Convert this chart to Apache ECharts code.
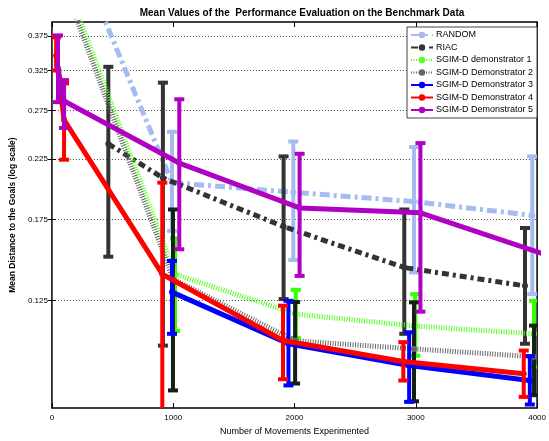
<!DOCTYPE html>
<html>
<head>
<meta charset="utf-8">
<script src="https://cdn.jsdelivr.net/npm/echarts@6/dist/echarts.min.js"></script>
<style>
html, body { margin: 0; padding: 0; background: #fff; }
#main { width: 549px; height: 441px; }
</style>
</head>
<body>
<div id="main"></div>
<script>
// tick values
var xTicks = [0, 1000, 2000, 3000, 4000];
var yTicks = [0.125, 0.175, 0.225, 0.275, 0.325, 0.375];

// RANDOM
var randomX = [0, 990, 1990, 2985, 3960];
var randomMean = [0.68, 0.204, 0.196, 0.1886, 0.178];
var randomLow = [0.6, 0.167, 0.148, 0.1405, 0.1284];
var randomHigh = [0.76, 0.252, 0.242, 0.2365, 0.2275];

// RIAC
var riacX = [465, 915, 1910, 2905, 3900];
var riacMean = [0.2397, 0.208, 0.170, 0.1434, 0.1329];
var riacLow = [0.150, 0.1037, 0.1258, 0.1089, 0.1045];
var riacHigh = [0.33, 0.309, 0.2275, 0.1825, 0.169];

// SGIM-D demonstrator 1
var dem1X = [0, 1015, 2010, 2995, 3975];
var dem1Mean = [0.548, 0.1395, 0.1182, 0.1125, 0.1089];
var dem1Low = [0.49, 0.1102, 0.1071, 0.0994, 0.095];
var dem1High = [0.6, 0.1619, 0.1307, 0.1284, 0.1249];

// SGIM-D Demonstrator 2
var dem2X = [0, 998, 2005, 2985, 3975];
var dem2Mean = [0.53, 0.1367, 0.1058, 0.1023, 0.099];
var dem2Low = [0.47, 0.0861, 0.0886, 0.0823, 0.0844];
var dem2High = [0.59, 0.1825, 0.1243, 0.1241, 0.1127];

// SGIM-D Demonstrator 3
var dem3X = [990, 1950, 2945, 3940];
var dem3Mean = [0.1295, 0.1045, 0.0955, 0.0897];
var dem3Low = [0.1089, 0.0879, 0.0821, 0.0812];
var dem3High = [0.1474, 0.1249, 0.1096, 0.0993];

// SGIM-D Demonstrator 4
var dem4X = [35, 100, 910, 1905, 2897, 3890];
var dem4Mean = [0.346, 0.2647, 0.1395, 0.1059, 0.0971, 0.0923];
var dem4Low = [0.325, 0.2244, 0.065, 0.0902, 0.0897, 0.0838];
var dem4High = [0.373, 0.308, 0.204, 0.1224, 0.1052, 0.1016];

// SGIM-D Demonstrator 5
var dem5X = [50, 100, 1050, 2042, 3038, 4040];
var dem5Mean = [0.328, 0.2863, 0.2213, 0.1837, 0.18, 0.152];
var dem5Low = [0.285, 0.256, 0.1547, 0.1385, 0.1194, 0.1067];
var dem5High = [0.376, 0.3123, 0.2884, 0.23, 0.2404, 0.2137];

var FONT = 'Liberation Sans';

var myChart = echarts.init(document.getElementById('main'));

function pairs(xs, ys) {
    return xs.map(function (x, i) { return [x, ys[i]]; });
}

function triples(xs, lo, hi) {
    return xs.map(function (x, i) { return [x, lo[i], hi[i]]; });
}

function errorBar(color) {
    return function (params, api) {
        var x = api.value(0);
        var lo = api.coord([x, api.value(1)]);
        var hi = api.coord([x, api.value(2)]);
        var cs = params.coordSys;
        var area = { x: cs.x, y: cs.y, width: cs.width, height: cs.height };
        var bw = 4, cw = 10, ch = 4;
        var rects = [
            { x: hi[0] - bw / 2, y: hi[1], width: bw, height: lo[1] - hi[1] },
            { x: hi[0] - cw / 2, y: hi[1] - ch / 2, width: cw, height: ch },
            { x: lo[0] - cw / 2, y: lo[1] - ch / 2, width: cw, height: ch }
        ];
        var children = [];
        rects.forEach(function (r) {
            var c = echarts.graphic.clipRectByRect(r, area);
            if (c) children.push({ type: 'rect', shape: c, style: { fill: color } });
        });
        return { type: 'group', children: children };
    };
}

var defs = [
    { name: 'RANDOM', x: randomX, m: randomMean, lo: randomLow, hi: randomHigh,
      color: '#a6bbf2', bar: '#a6bbf2', type: [10, 4, 3, 4], width: 5 },
    { name: 'RIAC', x: riacX, m: riacMean, lo: riacLow, hi: riacHigh,
      color: '#333333', bar: '#333333', type: [7, 4, 3, 4], width: 5 },
    { name: 'SGIM-D demonstrator 1', x: dem1X, m: dem1Mean, lo: dem1Low, hi: dem1High,
      color: '#55ff22', bar: '#33ff00', type: [1, 1.5], width: 5 },
    { name: 'SGIM-D Demonstrator 2', x: dem2X, m: dem2Mean, lo: dem2Low, hi: dem2High,
      color: '#666666', bar: '#142014', type: [1, 1.5], width: 5 },
    { name: 'SGIM-D Demonstrator 3', x: dem3X, m: dem3Mean, lo: dem3Low, hi: dem3High,
      color: '#0000ff', bar: '#0000ff', type: 'solid', width: 5 },
    { name: 'SGIM-D Demonstrator 4', x: dem4X, m: dem4Mean, lo: dem4Low, hi: dem4High,
      color: '#ff0000', bar: '#ff0000', type: 'solid', width: 5 },
    { name: 'SGIM-D Demonstrator 5', x: dem5X, m: dem5Mean, lo: dem5Low, hi: dem5High,
      color: '#b000c4', bar: '#b000c4', type: 'solid', width: 5 }
];

var series = [];
defs.forEach(function (d, i) {
    series.push({
        type: 'custom',
        name: d.name + ' err',
        renderItem: errorBar(d.bar),
        data: triples(d.x, d.lo, d.hi),
        encode: { x: 0, y: [1, 2] },
        z: 2 + i * 2,
        silent: true
    });
    series.push({
        type: 'line',
        name: d.name,
        data: pairs(d.x, d.m),
        symbol: 'circle',
        symbolSize: 6,
        showSymbol: true,
        clip: true,
        color: d.color,
        itemStyle: { color: d.color },
        lineStyle: { color: d.color, width: d.width, type: d.type },
        z: 3 + i * 2,
        animation: false
    });
});

var option = {
    animation: false,
    title: {
        text: 'Mean Values of the  Performance Evaluation on the Benchmark Data',
        left: 297,
        textAlign: 'center',
        top: 3,
        textStyle: { fontFamily: FONT, fontSize: 10, fontWeight: 'bold', color: '#000' }
    },
    legend: {
        data: defs.map(function (d) { return d.name; }),
        orient: 'vertical',
        left: 407,
        top: 27,
        itemWidth: 22,
        itemHeight: 8,
        itemGap: 2.5,
        padding: [3, 4, 3, 3],
        backgroundColor: '#fff',
        borderColor: '#444',
        borderWidth: 1,
        textStyle: { fontFamily: FONT, fontSize: 9, color: '#000', lineHeight: 10, padding: [0, 0, 0, -2] }
    },
    grid: {
        left: 50.5,
        right: 7.5,
        top: 22,
        bottom: 31.5,
        show: true,
        borderColor: '#000',
        borderWidth: 1.5
    },
    xAxis: [{
        type: 'value',
        min: xTicks[0],
        max: xTicks[xTicks.length - 1],
        interval: 1000,
        name: 'Number of Movements Experimented',
        nameLocation: 'middle',
        nameGap: 18,
        nameTextStyle: { fontFamily: FONT, fontSize: 9, color: '#000' },
        axisLine: { show: false },
        axisTick: { inside: true, length: 5, lineStyle: { color: '#000', width: 1 } },
        axisLabel: {
            fontFamily: FONT, fontSize: 8, color: '#000', margin: 6,
            formatter: function (v) { return String(v); }
        },
        splitLine: { show: false }
    }, {
        type: 'value',
        position: 'top',
        min: xTicks[0],
        max: xTicks[xTicks.length - 1],
        interval: 1000,
        axisLine: { show: false },
        axisTick: { inside: true, length: 5, lineStyle: { color: '#000', width: 1 } },
        axisLabel: { show: false },
        splitLine: { show: false }
    }],
    yAxis: [{
        type: 'log',
        min: 0.08,
        max: 0.3975,
        name: 'Mean Distance to the Goals (log scale)',
        nameLocation: 'middle',
        nameGap: 34,
        nameTextStyle: { fontFamily: FONT, fontSize: 8.5, fontWeight: 'bold', color: '#000' },
        axisLine: { show: false },
        axisTick: { inside: true, length: 4, customValues: yTicks, lineStyle: { color: '#000' } },
        axisLabel: {
            customValues: yTicks,
            fontFamily: FONT, fontSize: 8, color: '#000', margin: 4,
            formatter: function (v) { return v.toFixed(3); }
        },
        splitLine: { show: true, lineStyle: { color: '#444', width: 1, type: [1, 2] } }
    }, {
        type: 'log',
        position: 'right',
        min: 0.08,
        max: 0.3975,
        axisLine: { show: false },
        axisTick: { inside: true, length: 4, customValues: yTicks, lineStyle: { color: '#000' } },
        axisLabel: { show: false, customValues: yTicks },
        splitLine: { show: false }
    }],
    series: series
};

myChart.setOption(option);
</script>
</body>
</html>
